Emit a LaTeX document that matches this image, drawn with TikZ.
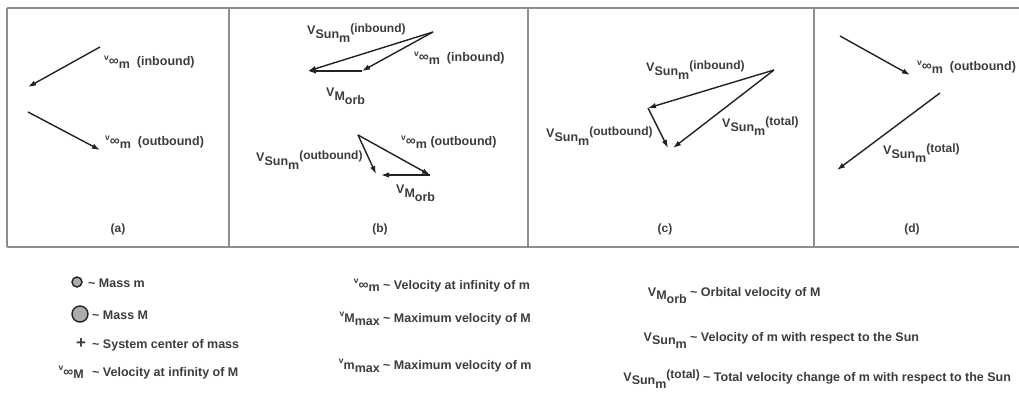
\documentclass[tikz,border=0pt]{standalone}
\usepackage{fontspec}
\setmainfont{Liberation Sans}
\usetikzlibrary{arrows.meta}

\definecolor{txtgray}{HTML}{3C3C3C}
\definecolor{framegray}{HTML}{8E8E8E}
\definecolor{vecgray}{HTML}{222222}

% velocity symbols
\newcommand{\vinf}[1]{\raisebox{0.85ex}{\fontsize{8.5}{8}\selectfont v}{\fontsize{14}{11}\selectfont\char"221E}\raisebox{-0.45ex}{#1}}
\newcommand{\Vsun}{V\raisebox{-0.6ex}{Sun\raisebox{-0.5ex}{m}}}
\newcommand{\Vorb}{V\raisebox{-0.6ex}{M\raisebox{-0.6ex}{orb}}}
\newcommand{\vmax}[1]{\raisebox{0.85ex}{\fontsize{8.5}{8}\selectfont v}#1\raisebox{-0.6ex}{max}}
\newcommand{\suptag}[1]{\raisebox{0.45ex}{\fontsize{12}{12}\selectfont(#1)}}

\tikzset{
  frame/.style={draw=framegray,line width=1.6pt},
  vec/.style={draw=vecgray,line width=1.4pt,-{Latex[length=8pt,width=5.5pt]}},
  lab/.style={text=txtgray,font=\fontsize{12.5}{14}\selectfont\bfseries,inner sep=0pt},
  panelcap/.style={text=txtgray,font=\fontsize{12}{13}\selectfont\bfseries,inner sep=0pt},
  lgd/.style={lab,anchor=base west},
  sym/.style={lab,anchor=base east},
  mass/.style={draw=vecgray,fill=gray!65,line width=1.4pt}
}

\begin{document}
\begin{tikzpicture}[x=1pt,y=-1pt]
  \useasboundingbox (0,0) rectangle (1019,395);

  % Frame and dividers
  \draw[frame] (7,8) -- (1019,8);
  \draw[frame] (7,247) -- (1019,247);
  \draw[frame] (7,8) -- (7,247);
  \draw[frame] (229,8) -- (229,247);
  \draw[frame] (528,8) -- (528,247);
  \draw[frame] (814,8) -- (814,247);

  % Panel (a)
  \coordinate (a1s) at (100,47);
  \coordinate (a1e) at (28,87);
  \coordinate (a2s) at (28,112);
  \coordinate (a2e) at (100,150);
  \draw[vec] (a1s) -- (a1e);
  \draw[vec] (a2s) -- (a2e);
  \node[lab,anchor=base west] (ainl) at (104,66) {\vinf{m}\ \ (inbound)};
  \node[lab,anchor=base west] (aoutl) at (105,146) {\vinf{m}\ \ (outbound)};
  \node[panelcap] (acap) at (118,229) {(a)};

  % Panel (b)
  \coordinate (bt) at (433,32);
  \coordinate (bs) at (308,71);
  \coordinate (bi) at (362,71);
  \draw[vec] (bt) -- (bs);
  \draw[vec] (bt) -- (bi);
  \draw[vec] (bi) -- (bs);
  \node[lab,anchor=base west] (bsunl) at (307,35) {\Vsun\suptag{inbound}};
  \node[lab,anchor=base west] (binl) at (414,62) {\vinf{m}\ \ (inbound)};
  \node[lab,anchor=base west] (borbl) at (326,97) {\Vorb};

  \coordinate (ba) at (358,135);
  \coordinate (bo) at (430,175);
  \coordinate (bq) at (381,175);
  \coordinate (bu) at (376,174);
  \draw[vec] (ba) -- (bo);
  \draw[vec] (bo) -- (bq);
  \draw[vec] (ba) -- (bu);
  \node[lab,anchor=base west] (boutl) at (401,146) {\vinf{m} (outbound)};
  \node[lab,anchor=base west] (bsun2l) at (256,162) {\Vsun\suptag{outbound}};
  \node[lab,anchor=base west] (borb2l) at (396,194) {\Vorb};
  \node[panelcap] (bcap) at (380,229) {(b)};

  % Panel (c)
  \coordinate (ct) at (774,70);
  \coordinate (cm) at (648,108);
  \coordinate (ce1) at (668,148);
  \coordinate (ce2) at (673,148);
  \draw[vec] (ct) -- (cm);
  \draw[vec] (cm) -- (ce1);
  \draw[vec] (ct) -- (ce2);
  \node[lab,anchor=base west] (cinl) at (646,72) {\Vsun\suptag{inbound}};
  \node[lab,anchor=base west] (coutl) at (546,138) {\Vsun\suptag{outbound}};
  \node[lab,anchor=base west] (ctotl) at (722,128) {\Vsun\suptag{total}};
  \node[panelcap] (ccap) at (665,229) {(c)};

  % Panel (d)
  \coordinate (d1s) at (840,36);
  \coordinate (d1e) at (910,75);
  \coordinate (d2s) at (940,93);
  \coordinate (d2e) at (837,170);
  \draw[vec] (d1s) -- (d1e);
  \draw[vec] (d2s) -- (d2e);
  \node[lab,anchor=base west] (doutl) at (917,71) {\vinf{m}\ \ (outbound)};
  \node[lab,anchor=base west] (dtotl) at (883,155) {\Vsun\suptag{total}};
  \node[panelcap] (dcap) at (912,229) {(d)};

  % Legend, first column
  \draw[mass] (77,282) circle (5);
  \node[lgd] (lm) at (88,287) {\textasciitilde{} Mass m};
  \draw[mass] (80,314) circle (8);
  \node[lgd] (lbig) at (92,319) {\textasciitilde{} Mass M};
  \node[lab,font=\fontsize{17}{17}\selectfont\bfseries] (lplus) at (81,344) {+};
  \node[lgd] (lcm) at (92,348) {\textasciitilde{} System center of mass};
  \node[lgd] (linfM) at (92,376) {\textasciitilde{} Velocity at infinity of M};
  \node[sym] (sinfM) at ([xshift=-8pt]linfM.base west) {\vinf{M}};

  % Legend, second column
  \node[lgd] (linfm) at (383,289) {\textasciitilde{} Velocity at infinity of m};
  \node[sym] (sinfm) at ([xshift=-3pt]linfm.base west) {\vinf{m}};
  \node[lgd] (lmaxM) at (383,322) {\textasciitilde{} Maximum velocity of M};
  \node[sym] (smaxM) at ([xshift=-3pt]lmaxM.base west) {\vmax{M}};
  \node[lgd] (lmaxm) at (383,369) {\textasciitilde{} Maximum velocity of m};
  \node[sym] (smaxm) at ([xshift=-3pt]lmaxm.base west) {\vmax{m}};

  % Legend, third column
  \node[lgd] (lorb) at (690,296) {\textasciitilde{} Orbital velocity of M};
  \node[sym] (sorb) at ([xshift=-3pt]lorb.base west) {\Vorb};
  \node[lgd] (lsun) at (690,341) {\textasciitilde{} Velocity of m with respect to the Sun};
  \node[sym] (ssun) at ([xshift=-3pt]lsun.base west) {\Vsun};
  \node[lgd] (ltot) at (703,381) {\textasciitilde{} Total velocity change of m with respect to the Sun};
  \node[sym] (stot) at ([xshift=-3pt]ltot.base west) {\Vsun\suptag{total}};
\end{tikzpicture}
\end{document}
